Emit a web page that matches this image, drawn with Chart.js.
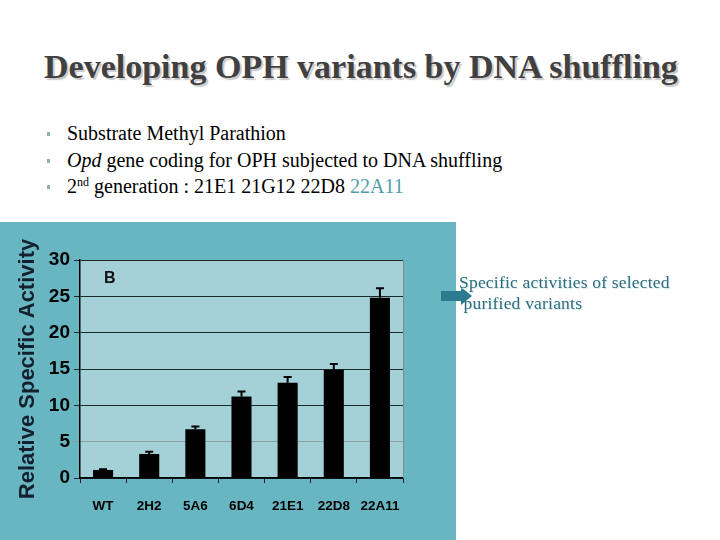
<!DOCTYPE html>
<html>
<head>
<meta charset="utf-8">
<script src="https://cdn.jsdelivr.net/npm/chart.js@4"></script>
<style>
  html, body { margin: 0; padding: 0; background: #fff; }
  body { width: 720px; height: 540px; position: relative; overflow: hidden; font-family: "Liberation Serif", "Times New Roman", serif; }
  .title {
    position: absolute; left: 44px; top: 47px; margin: 0; line-height: 40px;
    font-size: 34px; font-weight: bold; color: #404040; white-space: nowrap;
    text-shadow: 2px 2px 1px #c8c8c8;
  }
  ul.bullets { position: absolute; left: 47px; top: 120px; margin: 0; padding: 0; list-style: none; }
  ul.bullets li { position: relative; padding-left: 20px; font-size: 20px; line-height: 26.5px; color: #000; white-space: nowrap; }
  ul.bullets li::before { content: ""; position: absolute; left: 0; top: 12px; width: 3px; height: 4px; background: #8fb1b5; }
  ul.bullets sup { font-size: 12px; vertical-align: 7px; line-height: 0; }
  .hl { color: #4f9ca8; }
  #panel { position: absolute; left: 0; top: 222px; width: 456px; height: 318px; background: #68b6c1; }
  .note {
    position: absolute; left: 459px; top: 272px; font-size: 17.5px; line-height: 21px;
    color: #2d6d7e; text-shadow: 1px 1px 1px #d4e6ea; white-space: nowrap; letter-spacing: 0.2px;
  }
  .arrow { position: absolute; left: 441px; top: 291px; width: 20px; height: 10px; background: #2c7b90; }
  .arrow::after {
    content: ""; position: absolute; left: 20px; top: -4px;
    border-left: 11px solid #2c7b90; border-top: 9px solid transparent; border-bottom: 9px solid transparent;
  }
</style>
</head>
<body>
<h1 class="title">Developing OPH variants by DNA shuffling</h1>
<ul class="bullets">
  <li>Substrate Methyl Parathion</li>
  <li><i>Opd</i> gene coding for OPH subjected to DNA shuffling</li>
  <li>2<sup>nd</sup> generation : 21E1 21G12 22D8 <span class="hl">22A11</span></li>
</ul>
<div id="panel"><canvas id="chart" width="456" height="318"></canvas></div>
<div class="arrow"></div>
<div class="note">Specific activities of selected<br>&nbsp;purified variants</div>

<script>
// data
const variants = ['WT', '2H2', '5A6', '6D4', '21E1', '22D8', '22A11'];
const activity = [1.1, 3.3, 6.7, 11.2, 13.1, 14.9, 24.8];
const errors = [0.1, 0.3, 0.4, 0.7, 0.8, 0.8, 1.3];
const yTicks = [0, 5, 10, 15, 20, 25, 30];

const sans = "'Liberation Sans', Arial, sans-serif";

// plot background, right border, "B" tag
const plotDecor = {
  id: 'plotDecor',
  beforeDraw(chart) {
    const { ctx, chartArea: a } = chart;
    ctx.save();
    ctx.fillStyle = '#a3d1d7';
    ctx.fillRect(a.left, a.top, a.right - a.left, a.bottom - a.top);
    ctx.restore();
  },
  afterDraw(chart) {
    const { ctx, chartArea: a } = chart;
    ctx.save();
    ctx.strokeStyle = '#7d8e90';
    ctx.lineWidth = 1;
    ctx.beginPath();
    ctx.moveTo(a.right + 0.5, a.top);
    ctx.lineTo(a.right + 0.5, a.bottom);
    ctx.stroke();
    ctx.fillStyle = '#111';
    ctx.font = "bold 16px " + sans;
    ctx.textBaseline = 'middle';
    ctx.fillText('B', a.left + 24, a.top + 19);
    ctx.restore();
  }
};

// error bars from the data through the scales
const errorBars = {
  id: 'errorBars',
  afterDatasetsDraw(chart) {
    const { ctx } = chart;
    const y = chart.scales.y;
    const meta = chart.getDatasetMeta(0);
    ctx.save();
    ctx.strokeStyle = '#000';
    ctx.lineWidth = 2;
    meta.data.forEach((bar, i) => {
      const top = y.getPixelForValue(activity[i] + errors[i]);
      const base = y.getPixelForValue(activity[i]);
      ctx.beginPath();
      ctx.moveTo(bar.x, base);
      ctx.lineTo(bar.x, top);
      ctx.moveTo(bar.x - 4, top);
      ctx.lineTo(bar.x + 4, top);
      ctx.stroke();
    });
    ctx.restore();
  }
};

new Chart(document.getElementById('chart'), {
  type: 'bar',
  data: {
    labels: variants,
    datasets: [{
      data: activity,
      backgroundColor: '#000',
      borderWidth: 0,
      barPercentage: 0.87,
      categoryPercentage: 0.5
    }]
  },
  options: {
    responsive: false,
    animation: false,
    layout: { padding: { top: 38, right: 53, bottom: 0, left: 0 } },
    plugins: { legend: { display: false }, tooltip: { enabled: false } },
    scales: {
      x: {
        offset: true,
        grid: { drawOnChartArea: false, offset: true, tickLength: 5, color: '#222', lineWidth: 1 },
        border: { color: '#000', width: 1.5 },
        ticks: {
          color: '#000', padding: 15, maxRotation: 0, minRotation: 0, autoSkip: false,
          font: { family: sans, size: 13.5, weight: 'bold' }
        },
        afterFit(scale) { scale.height = 62; }
      },
      y: {
        min: 0, max: 30,
        afterBuildTicks(scale) { scale.ticks = yTicks.map(v => ({ value: v })); },
        grid: {
          tickLength: 6,
          color: c => c.tick && c.tick.value === 5 ? '#8d9c9e' : '#1e2b2d',
          lineWidth: 1
        },
        border: { color: '#000', width: 1.5 },
        ticks: { color: '#000', padding: 4, font: { family: sans, size: 19, weight: 'bold' } },
        title: {
          display: true,
          text: 'Relative Specific Activity',
          color: '#14202e',
          padding: { top: 15, bottom: 0 },
          font: { family: sans, size: 22, weight: 'bold' }
        },
        afterFit(scale) { scale.width = 80; }
      }
    }
  },
  plugins: [plotDecor, errorBars]
});
</script>
</body>
</html>
